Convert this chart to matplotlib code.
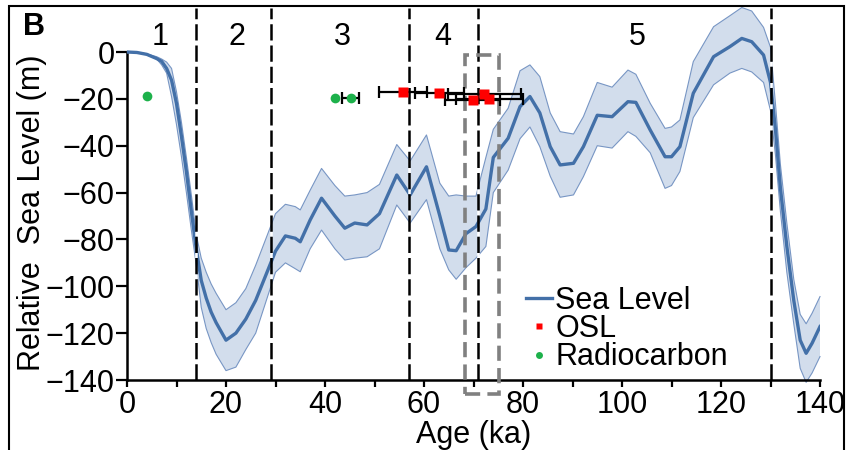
import matplotlib.pyplot as plt
from matplotlib.patches import Rectangle
from matplotlib.lines import Line2D
import numpy as np

# sea level curve (ka, m)
age = [0, 2, 4, 6, 7, 8, 9, 10, 11, 12, 13, 14, 15, 16, 17, 18, 20, 22, 24, 26,
       28, 30, 32, 34, 35, 37, 39.3, 42, 44, 46, 48.5, 51, 54.5, 57.2, 60.5, 63.2,
       65, 66.5, 68.5, 70.5, 72.5, 74, 77, 79.4, 81.4, 83.4, 85.5, 87.5, 90.2, 92.2,
       95, 98, 101.2, 102.8, 105.7, 108.7, 110, 111.7, 114.4, 118.5, 121.8, 124.2,
       126.2, 128.6, 130, 131, 132, 133.3, 134.7, 136, 137.2, 138.4, 140]
sea_mean = [0, -0.2, -1, -2.8, -4, -7, -12, -22, -36, -51, -68, -84, -97.5, -105,
            -111, -115.5, -123, -120, -114, -106, -95.5, -85, -78.5, -79.5, -81,
            -71.7, -62.4, -70, -75.2, -73, -73.8, -69, -52.5, -61, -49, -70,
            -84.5, -84.8, -77.5, -74.5, -67, -45, -36.8, -23.3, -19, -26, -40.4,
            -48.2, -47.5, -40.4, -27, -27.6, -21.2, -21.5, -33.3, -44.7, -44.7,
            -40.4, -17.6, -2, 2.3, 5.8, 4.4, -1.3, -13, -33, -58, -83, -106, -123,
            -128.6, -124.3, -117.2]
sea_upper = [0, 0, -0.8, -2, -3, -4.3, -7, -17, -30, -45, -61, -78, -88, -94, -99,
             -103, -110, -107, -101, -91, -80, -69, -65, -66, -67.4, -59, -49.7,
             -57, -61.5, -61, -60, -56.5, -39.5, -46.5, -35.4, -56, -61.5, -61,
             -61.5, -61.5, -45, -33, -24, -8, -5.5, -10.5, -26, -34, -35, -27.6,
             -13, -15, -7.7, -9.5, -21.9, -32.6, -32, -29, -4.1, 10.8, 15.5, 19,
             17.5, 10.5, 2, -22, -48, -73, -97, -112, -116, -111.5, -104.4]
sea_lower = [0, -0.3, -1.2, -3, -5.5, -9, -19, -31, -44.7, -60, -76, -91, -109,
             -118, -124, -129, -136, -134.5, -127, -120, -107, -94, -90, -92.5,
             -93.8, -84, -76, -84, -88.8, -88, -87.4, -84, -65.3, -73, -63, -84,
             -93, -97, -92, -88, -83, -60, -50.4, -37, -32, -40.4, -53, -62, -61,
             -53.2, -40, -41, -34, -36, -43, -58.2, -57, -51, -28, -14, -9, -7,
             -8.5, -13, -25, -44, -68, -94, -116, -135, -141, -137, -130]

# dated samples
osl_age = [55.8, 63.1, 69.8, 72.2, 73.2]
osl_level = [-17.2, -17.4, -20.5, -17.8, -20.0]
osl_err = [4.8, 5.0, 5.5, 7.3, 6.8]
rc_age = [4.0, 42.0, 45.2]
rc_level = [-18.8, -19.5, -19.5]
rc_err_age = [45.2]
rc_err_level = [-19.5]
rc_err = [1.7]

mis_bounds = [14, 29, 57, 71, 130]
mis_labels = ["1", "2", "3", "4", "5"]
mis_label_age = [6.7, 22.2, 43.6, 63.8, 103]

plt.rcParams['font.family'] = ['Liberation Sans', 'DejaVu Sans']
plt.rcParams['font.size'] = 22

fig = plt.figure(figsize=(8.48, 4.5), dpi=100)
ax = fig.add_axes([127 / 848, 1 - 380 / 450, 693 / 848, 372.5 / 450])

line_col = "#4370a8"
ax.fill(np.concatenate([age, age[::-1]]), np.concatenate([sea_upper, sea_lower[::-1]]),
        color="#d2ddec", lw=0, clip_on=False, zorder=1)
ax.plot(age, sea_upper, color="#7896c4", lw=0.8, clip_on=False, zorder=2)
ax.plot(age, sea_lower, color="#7896c4", lw=0.8, clip_on=False, zorder=2)
ax.plot(age, sea_mean, color=line_col, lw=2.4, zorder=3)

for b in mis_bounds:
    ax.axvline(b, color="black", lw=1.8, dashes=(6.5, 2), gapcolor="white", zorder=4)

ax.add_patch(Rectangle((68.2, -146), 6.9, 144.7, fill=False, edgecolor="#808080",
                       lw=2.6, ls=(0, (4.2, 2)), clip_on=False, zorder=5))

ax.errorbar(osl_age, osl_level, xerr=osl_err, fmt="none", ecolor="black",
            elinewidth=1.6, capsize=4, capthick=1.6, zorder=6)
ax.errorbar(rc_err_age, rc_err_level, xerr=rc_err, fmt="none", ecolor="black",
            elinewidth=1.6, capsize=4, capthick=1.6, zorder=6)
ax.plot(osl_age, osl_level, ls="none", marker="s", ms=6.5, color="#ff0000",
        mec="none", zorder=7)
ax.plot(rc_age, rc_level, ls="none", marker="o", ms=7, color="#1db14b",
        mec="none", zorder=7)

for lab, x in zip(mis_labels, mis_label_age):
    ax.text(x, 3, lab, ha="center", va="baseline")

ax.set_xlim(0, 140)
ax.set_ylim(-140, 19)
ax.set_xticks(np.arange(0, 141, 20))
ax.set_xticks(np.arange(10, 140, 20), minor=True)
ax.set_yticks(np.arange(-140, 1, 20))
ax.spines[["top", "right"]].set_visible(False)
ax.spines["left"].set_bounds(-140, 0)
ax.spines["left"].set_linewidth(1.8)
ax.spines["bottom"].set_linewidth(1.8)
ax.tick_params(axis="y", length=8, width=1.6, pad=1)
ax.tick_params(axis="x", which="both", length=5, width=1.6, pad=2)

ax.set_xlabel("Age (ka)", labelpad=0)
ax.set_ylabel("Relative  Sea Level (m)")
ax.yaxis.set_label_coords(-0.115, 0.45)

handles = [Line2D([], [], color=line_col, lw=2.4),
           Line2D([], [], ls="none", marker="s", ms=5, color="#ff0000", mec="none"),
           Line2D([], [], ls="none", marker="o", ms=5, color="#1db14b", mec="none")]
ax.legend(handles, ["Sea Level", "OSL", "Radiocarbon"], loc="upper left",
          bbox_to_anchor=(526 / 848, 1 - 286 / 450), bbox_transform=fig.transFigure,
          frameon=False, borderpad=0, borderaxespad=0, handlelength=0.85,
          handletextpad=0.1, labelspacing=-0.06)

fig.text(23 / 848, 1 - 35 / 450, "B", weight="bold", va="baseline")
fig.patches.append(Rectangle((9 / 848, -0.01), 835 / 848, 1.01 - 6 / 450,
                             transform=fig.transFigure, fill=False,
                             edgecolor="black", lw=1.5))

fig.savefig("out.png", dpi=100)
